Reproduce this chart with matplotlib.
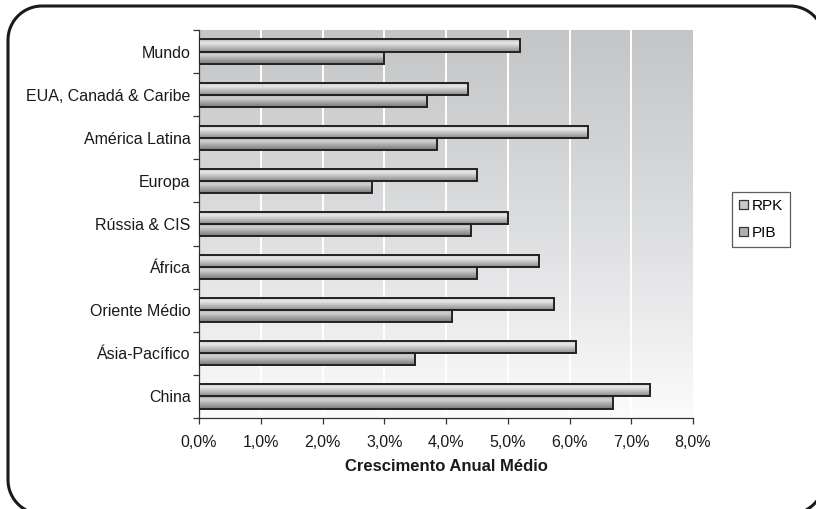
import numpy as np
import matplotlib
matplotlib.use("Agg")
import matplotlib.pyplot as plt
from matplotlib.colors import LinearSegmentedColormap
from matplotlib.patches import PathPatch, Rectangle
from matplotlib.path import Path
from matplotlib.ticker import FuncFormatter

plt.rcParams['font.family'] = ['Liberation Sans', 'DejaVu Sans']

regions = ["Mundo", "EUA, Canadá & Caribe", "América Latina", "Europa",
           "Rússia & CIS", "África", "Oriente Médio", "Ásia-Pacífico", "China"]
rpk = [5.2, 4.35, 6.3, 4.5, 5.0, 5.5, 5.75, 6.1, 7.3]
pib = [3.0, 3.7, 3.85, 2.8, 4.4, 4.5, 4.1, 3.5, 6.7]
series_names = ["RPK", "PIB"]
x_ticks = np.arange(0, 9, 1)

W, H = 816, 509
fig = plt.figure(figsize=(W / 100, H / 100), dpi=100)


def rounded_rect(x0, y0, x1, y1, r, steps=24):
    """Closed outline of a rounded rectangle in pixel units (y downward)."""
    pts = []
    corners = [(x1 - r, y0 + r, -90, 0), (x1 - r, y1 - r, 0, 90),
               (x0 + r, y1 - r, 90, 180), (x0 + r, y0 + r, 180, 270)]
    for cx, cy, a0, a1 in corners:
        t = np.radians(np.linspace(a0, a1, steps))
        pts.extend(zip(cx + r * np.cos(t), cy + r * np.sin(t)))
    pts.append(pts[0])
    pts = np.array(pts)
    return np.column_stack([pts[:, 0] / W, 1 - pts[:, 1] / H])


outline = rounded_rect(8, 6, 824, 514, 34)
fig.patches.append(PathPatch(Path(outline), transform=fig.transFigure,
                             fill=False, edgecolor="#1a1a1a", linewidth=2.2))

ax = fig.add_axes([199 / W, 1 - 418 / H, (693 - 199) / W, (418 - 30) / H])

# vertical background gradient: gray at top, fading to white
bg = LinearSegmentedColormap.from_list("bg", ["#c4c5c7", "#dcdddf", "#fbfbfb"])
grad = np.linspace(0, 1, 256).reshape(-1, 1)
ax.imshow(grad, extent=[0, 1, 0, 1], origin="upper", transform=ax.transAxes,
          cmap=bg, aspect="auto", zorder=0, interpolation="bicubic")

n = len(regions)
y = np.arange(n)

for xv in x_ticks[1:-1]:
    ax.axvline(xv, color="white", linewidth=1.4, zorder=1)

h = 0.28
bars_rpk = ax.barh(y - h / 2, rpk, height=h, facecolor="none",
                   edgecolor="#222222", linewidth=1.4, zorder=4)
bars_pib = ax.barh(y + h / 2, pib, height=h, facecolor="none",
                   edgecolor="#222222", linewidth=1.4, zorder=4)

cm_rpk = LinearSegmentedColormap.from_list(
    "rpk", [(0, "#b4b4b4"), (0.3, "#ebebeb"), (1, "#8a8a8a")])
cm_pib = LinearSegmentedColormap.from_list(
    "pib", [(0, "#a4a4a4"), (0.3, "#d2d2d2"), (1, "#777777")])


def shade(bars, cmap):
    for b in bars:
        x0, y0, w, hh = b.get_x(), b.get_y(), b.get_width(), b.get_height()
        im = ax.imshow(grad, extent=[x0, x0 + w, y0 + hh, y0], cmap=cmap,
                       aspect="auto", zorder=3, interpolation="bicubic")
        im.set_clip_path(Rectangle((x0, y0), w, hh, transform=ax.transData))


shade(bars_rpk, cm_rpk)
shade(bars_pib, cm_pib)
ax.set_xlim(0, 8)
ax.set_ylim(n - 0.5, -0.5)

ax.set_yticks(y)
ax.set_yticklabels(regions, fontsize=11.5, color="#1a1a1a")
ax.set_yticks(np.arange(-0.5, n, 1), minor=True)
ax.tick_params(axis="y", which="major", length=0, pad=6)
ax.tick_params(axis="y", which="minor", length=4, direction="out",
               color="#333333", width=0.9)

ax.set_xticks(x_ticks)
ax.xaxis.set_major_formatter(FuncFormatter(lambda v, p: f"{v:.1f}%".replace(".", ",")))
ax.tick_params(axis="x", length=4, direction="out", color="#333333",
               width=0.9, labelsize=11.5, labelcolor="#1a1a1a", pad=8)

for s in ["top", "right"]:
    ax.spines[s].set_visible(False)
for s in ["left", "bottom"]:
    ax.spines[s].set_color("#333333")
    ax.spines[s].set_linewidth(0.9)

ax.set_xlabel("Crescimento Anual Médio", fontsize=12, fontweight="bold",
              color="#1a1a1a", labelpad=7)

leg = ax.legend([bars_rpk[0], bars_pib[0]], series_names,
                loc="upper left", bbox_to_anchor=(732 / W, 1 - 192 / H),
                bbox_transform=fig.transFigure, fontsize=11,
                frameon=True, fancybox=False, handlelength=0.6,
                handleheight=0.6, handletextpad=0.25, borderpad=0.45,
                labelspacing=0.85, borderaxespad=0)
leg.get_frame().set_edgecolor("#333333")
leg.get_frame().set_linewidth(0.9)
for hnd, col in zip(leg.legend_handles, ["#c8c8c8", "#b0b0b0"]):
    hnd.set_facecolor(col)
    hnd.set_edgecolor("#333333")
    hnd.set_linewidth(0.9)

fig.savefig("out.png", dpi=100)
